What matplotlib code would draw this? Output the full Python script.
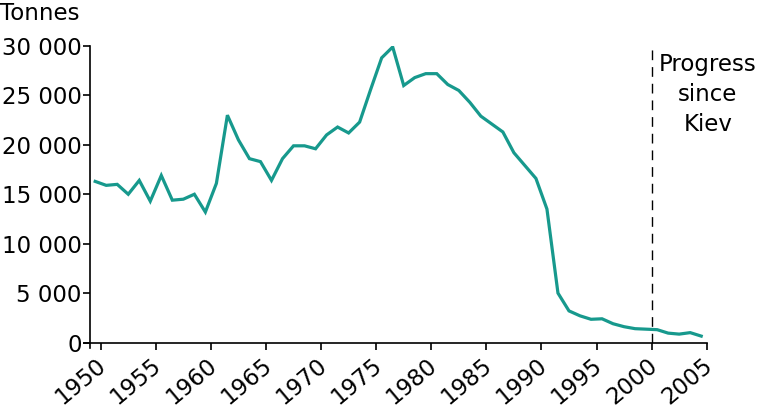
import matplotlib
matplotlib.use('Agg')
import matplotlib.pyplot as plt
import matplotlib.transforms as mtrans
from matplotlib.ticker import FuncFormatter
import numpy as np

# Yearly values (tonnes), plotted in the middle of each year slot
YEARS = list(range(1949, 2005))
TONNES = [16300, 15900, 16000, 15000, 16400, 14300, 16900, 14400, 14500, 15000,
          13200, 16100, 23000, 20500, 18600, 18300, 16400, 18600, 19900, 19900,
          19600, 21000, 21800, 21200, 22300, 25600, 28800, 29900, 26000, 26800,
          27200, 27200, 26100, 25500, 24300, 22900, 22100, 21300, 19200, 17900,
          16600, 13500, 5000, 3200, 2700, 2350, 2400, 1900, 1600, 1400,
          1350, 1300, 950, 850, 1000, 650]
XTICKS = list(range(1950, 2006, 5))
YTICKS = [0, 5000, 10000, 15000, 20000, 25000, 30000]
MARK_YEAR = 2000
NOTE = 'Progress\nsince\nKiev'
LINE_COLOR = '#17998d'
TEXTSIZE = 16.5

plt.rcParams['font.family'] = ['DejaVu Sans']

fig = plt.figure(figsize=[7.68, 4.08], dpi=100)
ax = fig.add_axes([0.1172, 0.1605, 0.803, 0.7268])

x = np.asarray(YEARS) + 0.5
ax.plot(x, TONNES, color=LINE_COLOR, lw=2.3, solid_joinstyle='miter')
ax.axvline(MARK_YEAR, color='black', lw=1.0, dashes=(7, 5))

ax.set_xlim(1949.03, 2005.0)
ax.set_ylim(0, 30000)
ax.set_xticks(XTICKS)
ax.set_yticks(YTICKS)
ax.yaxis.set_major_formatter(FuncFormatter(lambda v, p: f'{int(v):,}'.replace(',', ' ')))

for s in ['top', 'right']:
    ax.spines[s].set_visible(False)
for s in ['left', 'bottom']:
    ax.spines[s].set_linewidth(1.2)
ax.spines['bottom'].set_bounds(1948.5, 2005.0)
ax.spines['left'].set_bounds(-600, 30000)

ax.tick_params(axis='both', direction='out', length=5, width=1.2, labelsize=TEXTSIZE)
ax.tick_params(axis='y', pad=1)
ax.tick_params(axis='x', pad=3)
shift = mtrans.ScaledTranslation(10 / 100, 0, fig.dpi_scale_trans)
for lab in ax.get_xticklabels():
    lab.set_rotation(40)
    lab.set_ha('right')
    lab.set_va('top')
    lab.set_transform(lab.get_transform() + shift)

ax.text(2005.1, 29300, NOTE, ha='center', va='top', fontsize=TEXTSIZE,
        linespacing=1.4, clip_on=False)
fig.text(0.0, 0.995, 'Tonnes', ha='left', va='top', fontsize=TEXTSIZE)

fig.savefig('out.png', dpi=100)
